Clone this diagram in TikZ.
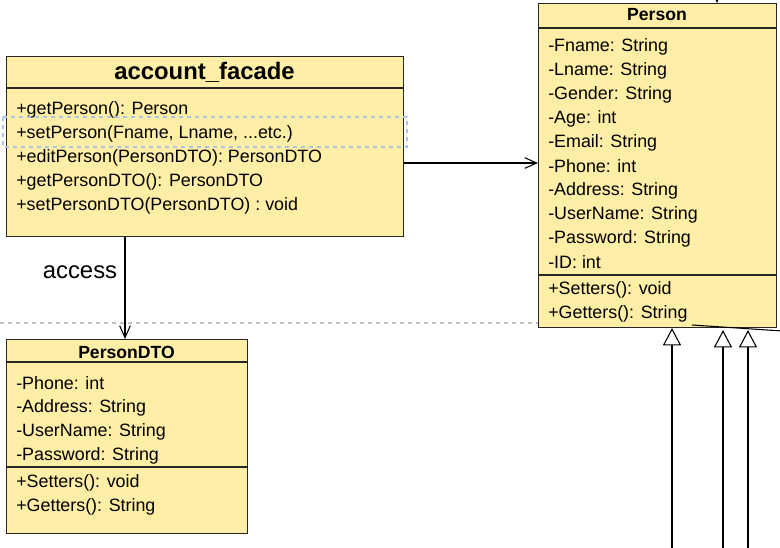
\documentclass[tikz,border=0pt]{standalone}
\usepackage{fontspec}
\setmainfont{Liberation Sans}
\usetikzlibrary{arrows.meta}
\definecolor{classfill}{RGB}{255,238,166}
\definecolor{selblue}{RGB}{169,196,235}
\tikzset{
  classbox/.style={draw=black!85, fill=classfill, line width=1pt, inner sep=0pt, anchor=north west},
  classname/.style={font=\bfseries\fontsize{13.2}{16}\selectfont},
  member/.style={anchor=west, inner sep=0pt, font=\fontsize{13.4}{18}\selectfont},
  assoc/.style={-{Straight Barb[length=9pt,width=8pt]}, line width=0.8pt},
  inherit/.style={-{Triangle[length=13pt,width=13.5pt,fill=white]}, line width=0.8pt},
}
\begin{document}
\begin{tikzpicture}[x=0.75pt,y=-0.75pt]
\useasboundingbox (0,0) rectangle (780,547);
% separator between the two layers
\draw[black!25, dashed, line width=0.8pt] (0,323) -- (538,323);

% account_facade
\node[classbox, minimum width=297.75pt, minimum height=135pt] (facade) at (6,56) {};
\draw[black!85, line width=1pt] (6,88) -- (403,88);
\node[font=\bfseries\fontsize{17.9}{20}\selectfont] (facadename) at (204.5,72) {account\_facade};
\foreach \m [count=\i from 0] in {+getPerson(): Person, {+setPerson(Fname, Lname, ..{}.etc.)}, +editPerson(PersonDTO): PersonDTO, +getPersonDTO(): PersonDTO, +setPersonDTO(PersonDTO) : void}
  \node[member] (facadeop\i) at (16,{110+24*\i}) {\m};
\draw[selblue, dashed, line width=0.8pt] (3,117) rectangle (407,147);

% Person
\node[classbox, minimum width=178.5pt, minimum height=243pt] (person) at (538,3) {};
\draw[black!85, line width=1pt] (538,28) -- (776,28);
\draw[black!85, line width=1pt] (538,275) -- (776,275);
\node[classname] (personname) at (657,15) {Person};
\foreach \m [count=\i from 0] in {-Fname: String, -Lname: String, -Gender: String, -Age: int, -Email: String, -Phone: int, -Address: String, -UserName: String, -Password: String, -ID: int}
  \node[member] (personattr\i) at (548,{46.5+24*\i}) {\m};
\foreach \m [count=\i from 0] in {+Setters(): void, +Getters(): String}
  \node[member] (personop\i) at (548,{289.5+24*\i}) {\m};

% PersonDTO
\node[classbox, minimum width=180.75pt, minimum height=145.5pt] (dto) at (6,339) {};
\draw[black!85, line width=1pt] (6,362) -- (247,362);
\draw[black!85, line width=1pt] (6,467) -- (247,467);
\node[classname] (dtoname) at (126.5,352) {PersonDTO};
\foreach \m [count=\i from 0] in {-Phone: int, -Address: String, -UserName: String, -Password: String}
  \node[member] (dtoattr\i) at (16,{383.5+24*\i}) {\m};
\foreach \m [count=\i from 0] in {+Setters(): void, +Getters(): String}
  \node[member] (dtoop\i) at (16,{482.5+24*\i}) {\m};

% connectors
\draw[assoc] (facade.east |- 0,163) -- (person.west |- 0,163);
\draw[assoc] (facade.south -| 125,0) -- (dto.north -| 125,0);
\node[font=\fontsize{17.9}{20}\selectfont] (access) at (80,272) {access};

% links leaving the view
\coordinate (fromtop) at (717,-40);
\draw[assoc] (fromtop) -- (person.north -| fromtop);
\coordinate (passby) at (692,325);
\draw[line width=0.8pt] (passby) -- (790,331.5);
\coordinate (sub1) at (672,560);
\coordinate (sub2) at (723,560);
\coordinate (sub3) at (748,560);
\draw[inherit] (sub1) -- (672,328);
\draw[inherit] (sub2) -- (723,330);
\draw[inherit] (sub3) -- (748,330);
\end{tikzpicture}
\end{document}
